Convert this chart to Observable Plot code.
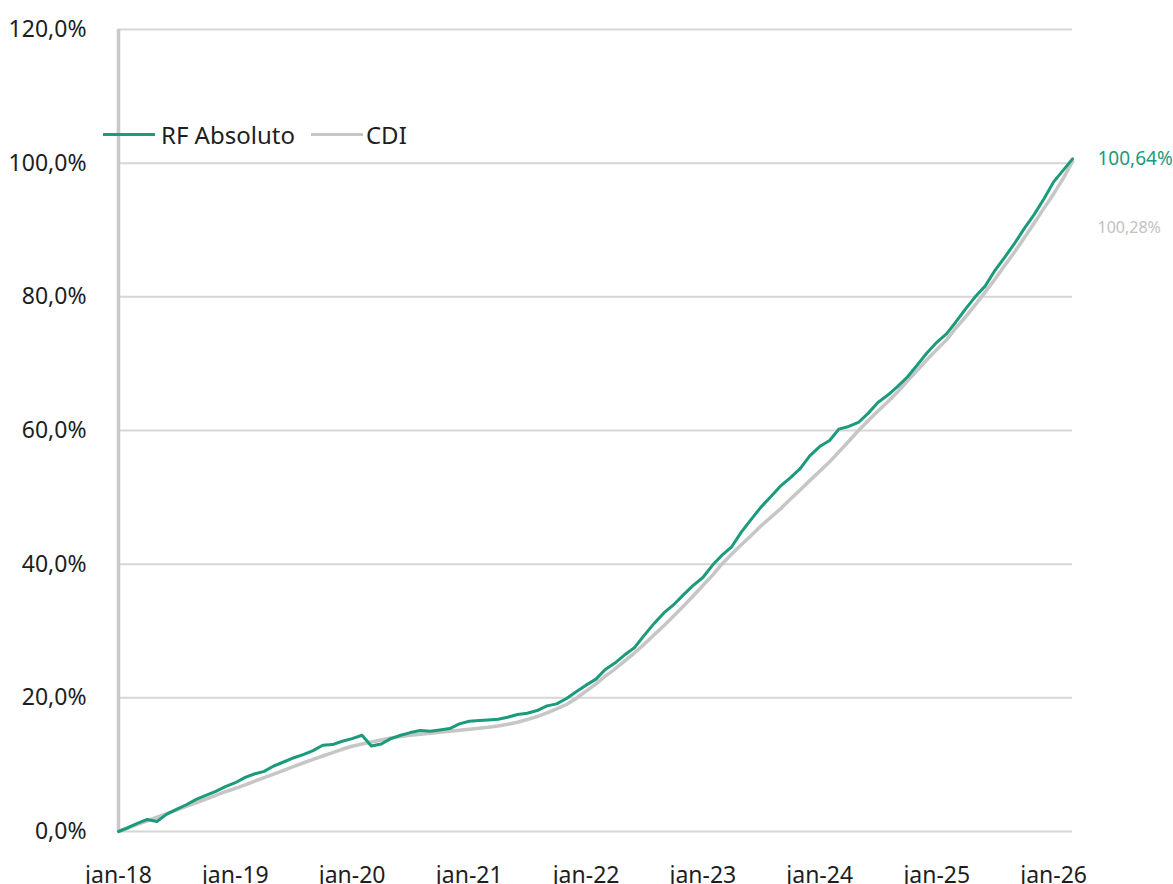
<!DOCTYPE html>
<html>
<head>
<meta charset="utf-8">
<script src="https://cdn.jsdelivr.net/npm/d3@7"></script>
<script src="https://cdn.jsdelivr.net/npm/@observablehq/plot@0.6"></script>
<style>
  html, body { margin: 0; padding: 0; background: #fff; }
  #wrap { position: relative; width: 1173px; height: 884px; font-family: "Noto Sans", sans-serif; }
  #legend { position: absolute; left: 103px; top: 118px; display: flex; align-items: center; font-size: 24px; color: #1e1e1e; white-space: nowrap; }
  #legend .sw { display: inline-block; width: 52px; height: 3px; }
</style>
</head>
<body>
<div id="wrap">
  <div id="chart"></div>
  <div id="legend">
    <span class="sw" style="background:#1b9a7c"></span><span style="margin-left:6px">RF Absoluto</span>
    <span class="sw" style="background:#c6c6c6;margin-left:16px"></span><span style="margin-left:3px">CDI</span>
  </div>
</div>
<script>
// Monthly dates: 2018-01-01 ... 2026-03-01
const startDate = "2018-01-01";
const endDate = "2026-03-01";
const seriesNames = ["RF Absoluto", "CDI"];

// Cumulative return (%), RF Absoluto
const rfAbsoluto = [
  0, 0.6, 1.2, 1.8, 1.5, 2.6, 3.3, 4.0, 4.8, 5.4, 6.0, 6.7, 7.3,
  8.1, 8.6, 9.0, 9.8, 10.4, 11.0, 11.5, 12.1, 12.9, 13.0, 13.5, 13.9,
  14.4, 12.8, 13.1, 13.9, 14.4, 14.8, 15.1, 15.0, 15.2, 15.4, 16.1, 16.5,
  16.6, 16.7, 16.8, 17.1, 17.5, 17.7, 18.1, 18.8, 19.1, 19.9, 20.9, 21.9,
  22.8, 24.2, 25.2, 26.4, 27.5, 29.3, 31.1, 32.7, 33.9, 35.4, 36.8, 38.0,
  39.9, 41.3, 42.6, 44.8, 46.7, 48.5, 50.1, 51.7, 52.9, 54.3, 56.2, 57.6,
  58.5, 60.2, 60.6, 61.2, 62.6, 64.2, 65.3, 66.6, 68.0, 69.8, 71.6, 73.2,
  74.5, 76.2, 78.2, 80.0, 81.6, 83.9, 85.9, 88.0, 90.2, 92.3, 94.6, 97.2, 99.0, 100.64
];

// Cumulative return (%), CDI
const cdi = [
  0, 0.53, 1.06, 1.6, 2.13, 2.67, 3.2, 3.75, 4.3, 4.85, 5.4, 5.95, 6.45,
  6.97, 7.5, 8.05, 8.6, 9.15, 9.7, 10.25, 10.8, 11.3, 11.8, 12.3, 12.75,
  13.1, 13.4, 13.7, 14.0, 14.2, 14.4, 14.55, 14.7, 14.85, 15.0, 15.15, 15.3,
  15.45, 15.6, 15.8, 16.05, 16.35, 16.75, 17.2, 17.75, 18.35, 19.0, 19.9, 21.0,
  22.1, 23.2, 24.3, 25.5, 26.7, 28.0, 29.4, 30.8, 32.2, 33.7, 35.2, 36.8,
  38.4, 40.0, 41.5, 42.9, 44.3, 45.7, 47.0, 48.3, 49.7, 51.1, 52.5, 53.9,
  55.3, 56.8, 58.4, 60.0, 61.5, 62.9, 64.3, 65.8, 67.4, 69.0, 70.6, 72.1,
  73.6, 75.3, 77.0, 78.8, 80.7, 82.6, 84.7, 86.7, 88.8, 91.0, 93.2, 95.4, 97.8, 100.28
];

const yTicks = [0, 20, 40, 60, 80, 100, 120];
const xTickYears = ["2018", "2019", "2020", "2021", "2022", "2023", "2024", "2025", "2026"];

const green = "#1b9a7c";
const grey = "#c6c6c6";

const dates = d3.utcMonth.range(new Date(startDate), d3.utcDay.offset(new Date(endDate), 1));
const data = dates.map((d, i) => ({date: d, rf: rfAbsoluto[i], cdi: cdi[i]}));
const last = [data[data.length - 1]];
const xTicks = xTickYears.map(y => new Date(y + "-01-01"));
const pct = (v, n) => v.toFixed(n).replace(".", ",") + "%";

const chart = Plot.plot({
  width: 1173,
  height: 884,
  marginLeft: 118,
  marginRight: 101,
  marginTop: 29,
  marginBottom: 53,
  style: {fontFamily: "'Noto Sans', sans-serif", fontSize: "23px", color: "#1e1e1e", background: "transparent"},
  x: {type: "utc", domain: [new Date(startDate), new Date(endDate)]},
  y: {domain: [0, 120]},
  marks: [
    Plot.gridY(yTicks, {stroke: "#d6d6d6", strokeWidth: 2, strokeOpacity: 1}),
    Plot.axisY(yTicks, {tickSize: 0, tickPadding: 32, tickFormat: d => pct(d, 1), fontSize: 23, label: null}),
    Plot.axisX(xTicks, {tickSize: 0, tickPadding: 35, tickFormat: d => "jan-" + String(d.getUTCFullYear()).slice(2), fontSize: 23, label: null}),
    Plot.ruleX([new Date(startDate)], {stroke: "#c8c8c8", strokeWidth: 3.5}),
    Plot.line(data, {x: "date", y: "cdi", stroke: grey, strokeWidth: 3.5}),
    Plot.line(data, {x: "date", y: "rf", stroke: green, strokeWidth: 3}),
    Plot.text(last, {x: "date", y: "rf", text: d => pct(d.rf, 2), dx: 25, textAnchor: "start", fill: green, fontSize: 19}),
    Plot.text(last, {x: "date", y: "cdi", text: d => pct(d.cdi, 2), dx: 25, dy: 67, textAnchor: "start", fill: "#c2c2c2", fontSize: 16})
  ]
});
document.getElementById("chart").appendChild(chart);
</script>
</body>
</html>
